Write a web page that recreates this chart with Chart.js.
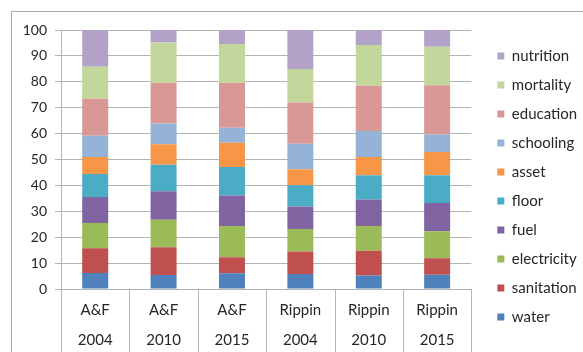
<!DOCTYPE html>
<html>
<head>
<meta charset="utf-8">
<script src="https://cdn.jsdelivr.net/npm/chart.js@4/dist/chart.umd.min.js"></script>
<style>
  html, body { margin: 0; padding: 0; background: #ffffff; }
  #wrap { width: 583px; height: 352px; }
</style>
</head>
<body>
<div id="wrap"><canvas id="c" width="583" height="352"></canvas></div>
<script>
// Category labels (source / year)
const sources = ['A&F', 'A&F', 'A&F', 'Rippin', 'Rippin', 'Rippin'];
const years = ['2004', '2010', '2015', '2004', '2010', '2015'];

// Share of each indicator (%), stacked bottom to top
const water       = [6.2, 5.4, 6.1, 5.8, 5.2, 5.5];
const sanitation  = [9.5, 10.7, 6.2, 8.7, 9.6, 6.4];
const electricity = [9.8, 10.6, 12.0, 8.7, 9.5, 10.4];
const fuel        = [10.0, 11.0, 11.8, 8.7, 10.3, 10.9];
const floor       = [8.9, 10.3, 11.0, 8.2, 9.3, 10.7];
const asset       = [6.6, 7.9, 9.4, 6.1, 7.1, 9.0];
const schooling   = [8.2, 8.0, 5.8, 9.9, 10.0, 6.8];
const education   = [14.3, 15.7, 17.3, 15.9, 17.5, 19.0];
const mortality   = [12.3, 15.6, 15.0, 12.9, 15.7, 14.8];
const nutrition   = [14.2, 4.8, 5.4, 15.1, 5.8, 6.5];

const yTicks = [0, 10, 20, 30, 40, 50, 60, 70, 80, 90, 100];

const seriesNames = ['water', 'sanitation', 'electricity', 'fuel', 'floor',
                     'asset', 'schooling', 'education', 'mortality', 'nutrition'];
const seriesData = [water, sanitation, electricity, fuel, floor,
                    asset, schooling, education, mortality, nutrition];
const seriesColors = ['#4F81BD', '#C0504D', '#9BBB59', '#8064A2', '#4BACC6',
                      '#F79646', '#95B3D7', '#D99795', '#C3D69B', '#B3A2C7'];

const labels = sources.map((s, i) => [s, years[i]]);

const FONT = "Lato, 'Liberation Sans', sans-serif";
const TEXT = '#262626';
const GRID = '#b4b4b4';

// Empty spacer axis used only to reserve room around the plot area
const spacer = (position, size) => ({
  position,
  display: true,
  grid: { display: false, drawOnChartArea: false },
  border: { display: false },
  ticks: { display: false },
  afterFit(s) {
    if (s.isHorizontal()) s.height = size; else s.width = size;
  }
});

// Vertical separators between category labels below the plot, plus outer frame
const decorations = {
  id: 'decorations',
  afterDraw(chart) {
    const ctx = chart.ctx;
    const xs = chart.scales.x;
    const area = chart.chartArea;
    ctx.save();
    ctx.strokeStyle = GRID;
    ctx.lineWidth = 1;
    ctx.beginPath();
    for (let i = 0; i <= labels.length; i++) {
      const x = Math.round(xs.getPixelForValue(i - 0.5)) + 0.5;
      ctx.moveTo(x, area.bottom);
      ctx.lineTo(x, chart.height);
    }
    ctx.stroke();
    ctx.strokeStyle = '#a8a8a8';
    ctx.beginPath();
    ctx.moveTo(11.5, chart.height);
    ctx.lineTo(11.5, 11.5);
    ctx.lineTo(chart.width, 11.5);
    ctx.stroke();
    ctx.restore();
  }
};

new Chart(document.getElementById('c'), {
  type: 'bar',
  data: {
    labels: labels,
    datasets: seriesNames.map((name, i) => ({
      label: name,
      data: seriesData[i],
      backgroundColor: seriesColors[i],
      borderWidth: 0,
      barPercentage: 0.38,
      categoryPercentage: 1.0,
      yAxisID: 'y'
    }))
  },
  options: {
    responsive: false,
    devicePixelRatio: 1,
    animation: false,
    layout: { padding: { top: 21, bottom: 0, left: 0, right: 3 } },
    plugins: {
      tooltip: { enabled: false },
      legend: {
        position: 'right',
        reverse: true,
        align: 'center',
        labels: {
          boxWidth: 7,
          boxHeight: 7,
          padding: 14,
          color: TEXT,
          font: { family: FONT, size: 15 }
        }
      }
    },
    scales: {
      x: {
        stacked: true,
        offset: true,
        grid: { display: false, drawTicks: false },
        border: { display: true, color: GRID },
        ticks: {
          color: TEXT,
          padding: 6,
          maxRotation: 0,
          autoSkip: false,
          font: { family: FONT, size: 15, lineHeight: '30px' }
        },
        afterFit(s) { s.height = 63; }
      },
      y: {
        stacked: true,
        min: 0,
        max: 100,
        afterBuildTicks(s) { s.ticks = yTicks.map(v => ({ value: v })); },
        grid: { color: GRID, tickLength: 6, drawTicks: true },
        border: { display: true, color: GRID },
        ticks: {
          color: TEXT,
          padding: 8,
          font: { family: FONT, size: 14 }
        },
        afterFit(s) { s.width = 61; }
      },
      gapRight: spacer('right', 12),
      gapTop: spacer('top', 9)
    }
  },
  plugins: [decorations]
});
</script>
</body>
</html>
